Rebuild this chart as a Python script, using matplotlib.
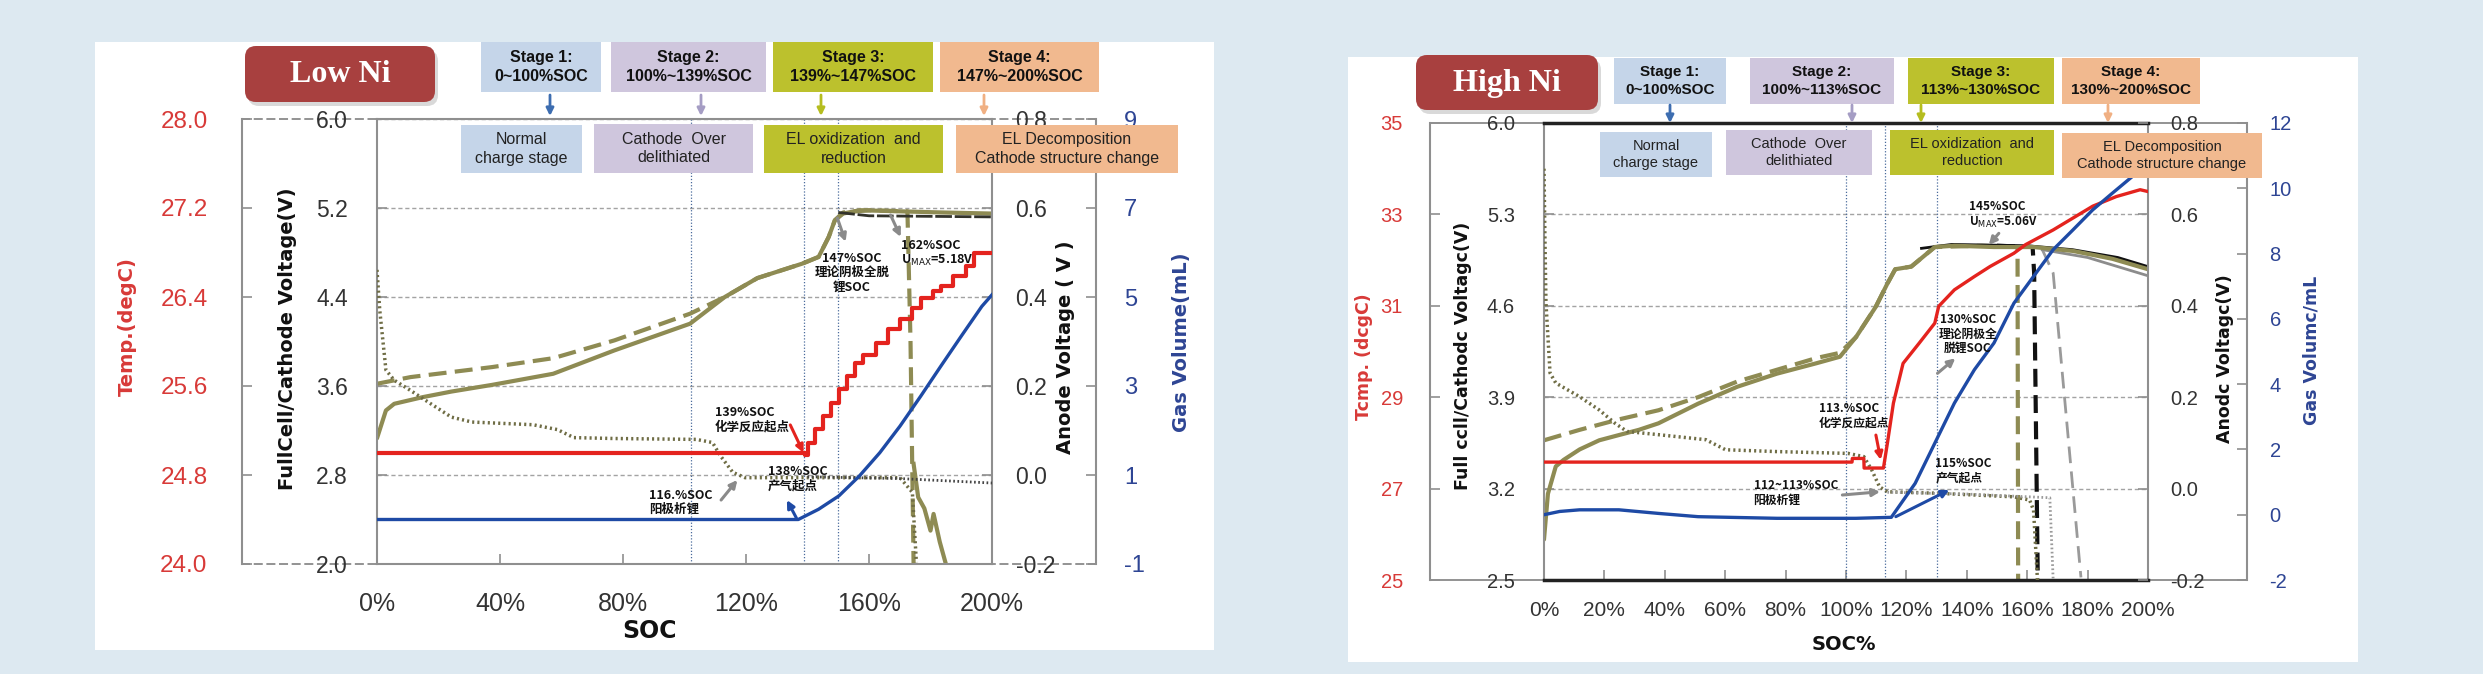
import matplotlib
matplotlib.use("Agg")
from matplotlib import pyplot as plt
from matplotlib.patches import Rectangle, FancyBboxPatch, FancyArrowPatch
from matplotlib.ticker import FormatStrFormatter

W, H = 2483, 674
BG = "#dde9f1"
OLIVE = "#8e8b53"
DARK = "#33332b"
RED = "#e4231e"
BLUE = "#1e4aa5"
TEMP_C = "#d83a38"
GAS_C = "#2e4594"
FRAME_C = "#8f8f8f"
CJK = ["Noto Sans CJK SC", "DejaVu Sans"]

plt.rcParams["font.family"] = ["Liberation Sans", "DejaVu Sans"]

# shared stage descriptions
stage_desc = ["Normal\ncharge stage", "Cathode  Over\ndelithiated",
              "EL oxidization  and\nreduction", "EL Decomposition\nCathode structure change"]
stage_colors = ["#c5d5e9", "#cfc6dd", "#bcc12d", "#f1b98f"]
stage_arrow_colors = ["#3d6db0", "#a59dc4", "#b5bd1f", "#f0b083"]

# ---------------- Low Ni ----------------
ln_stage_titles = ["Stage 1:\n0~100%SOC", "Stage 2:\n100%~139%SOC",
                   "Stage 3:\n139%~147%SOC", "Stage 4:\n147%~200%SOC"]
ln_bounds = [102, 139, 150]
ln_xticks = [0, 40, 80, 120, 160, 200]
ln_v_ticks = [2.0, 2.8, 3.6, 4.4, 5.2, 6.0]
ln_t_ticks = [24.0, 24.8, 25.6, 26.4, 27.2, 28.0]
ln_a_ticks = [-0.2, 0.0, 0.2, 0.4, 0.6, 0.8]
ln_g_ticks = [-1, 1, 3, 5, 7, 9]

ln_full_soc = [0, 2.9, 5.6, 14.9, 24.2, 37.4, 57.3, 77.2, 101.8, 113.1, 123.7, 138.3,
               143.6, 146.9, 148.9, 151.6, 156.9, 170.1, 183.4, 200]
ln_full_v = [3.13, 3.38, 3.44, 3.50, 3.55, 3.61, 3.71, 3.92, 4.16, 4.40, 4.57, 4.70,
             4.76, 4.94, 5.09, 5.15, 5.18, 5.17, 5.16, 5.15]
ln_cath_soc = [0, 10.9, 37.4, 57.3, 77.2, 101.8, 113.1, 123.7, 138.3, 143.6, 146.9,
               148.9, 151.6, 160, 172.5, 173.5, 174.5]
ln_cath_v = [3.62, 3.68, 3.77, 3.85, 4.01, 4.25, 4.40, 4.57, 4.70, 4.76, 4.94,
             5.09, 5.16, 5.18, 5.17, 4.0, 2.0]
ln_dark_soc = [150, 160, 200]
ln_dark_v = [5.16, 5.13, 5.12]
ln_tail_soc = [174.5, 176, 178, 180, 181, 183, 185]
ln_tail_v = [2.9, 2.6, 2.5, 2.3, 2.45, 2.2, 2.0]
ln_anode_soc = [0, 0.9, 2.9, 5.6, 10.9, 17.5, 24.2, 30.9, 50.7, 58.7, 64.0, 77.2,
                103.8, 109.1, 111.7, 115.7, 119.7, 170.1, 174.1, 175.4]
ln_anode_v = [0.461, 0.37, 0.236, 0.213, 0.19, 0.16, 0.13, 0.119, 0.113, 0.102, 0.084,
              0.082, 0.080, 0.073, 0.043, 0.006, -0.006, -0.006, -0.039, -0.196]
ln_anode2_soc = [140, 170, 200]
ln_anode2_v = [-0.004, -0.008, -0.018]
ln_temp_soc = [0, 138.5, 139.2, 140.3, 142.3, 144.9, 147.6, 150.2, 152.9, 155.5, 158.2,
               162.2, 166.2, 170.1, 174.1, 176.8, 180.8, 183.4, 187.4, 191.4, 194.0, 200]
ln_temp = [25.0, 25.0, 24.98, 25.09, 25.21, 25.33, 25.45, 25.57, 25.69, 25.81, 25.88,
           25.99, 26.11, 26.20, 26.30, 26.39, 26.45, 26.50, 26.59, 26.68, 26.80, 26.80]
ln_gas_soc = [0, 137, 143.6, 150.2, 156.9, 163.5, 170.1, 176.8, 183.4, 190.0, 196.7, 200]
ln_gas = [0.0, 0.0, 0.23, 0.53, 0.98, 1.50, 2.10, 2.77, 3.45, 4.12, 4.79, 5.05]

# ---------------- High Ni ----------------
hn_stage_titles = ["Stage 1:\n0~100%SOC", "Stage 2:\n100%~113%SOC",
                   "Stage 3:\n113%~130%SOC", "Stage 4:\n130%~200%SOC"]
hn_bounds = [100, 113, 130]
hn_xticks = [0, 20, 40, 60, 80, 100, 120, 140, 160, 180, 200]
hn_v_ticks = [2.5, 3.2, 3.9, 4.6, 5.3, 6.0]
hn_t_ticks = [25, 27, 29, 31, 33, 35]
hn_a_ticks = [-0.2, 0.0, 0.2, 0.4, 0.6, 0.8]
hn_g_ticks = [-2, 0, 2, 4, 6, 8, 10, 12]

hn_full_soc = [0, 1.3, 3.9, 6.5, 11.8, 18.3, 24.8, 31.4, 37.9, 51.0, 64.0, 77.1, 90.2,
               98.0, 103.3, 109.8, 113.7, 116.3, 121.6, 129.4, 135.9, 149.0, 162.1,
               175.2, 188.2, 200]
hn_full_v = [2.81, 3.16, 3.37, 3.42, 3.50, 3.57, 3.61, 3.65, 3.70, 3.85, 3.98, 4.08, 4.16,
             4.21, 4.36, 4.59, 4.77, 4.88, 4.90, 5.05, 5.06, 5.05, 5.05, 5.02, 4.96, 4.88]
hn_cath_soc = [0, 11.8, 24.8, 37.9, 51.0, 64.0, 77.1, 90.2, 98.0, 103.3, 109.8, 113.7,
               116.3, 121.6, 129.4, 145, 156.8, 157.0]
hn_cath_v = [3.57, 3.65, 3.73, 3.80, 3.90, 4.02, 4.11, 4.20, 4.24, 4.36, 4.59, 4.77,
             4.88, 4.90, 5.05, 5.06, 5.05, 2.5]
hn_cath2_soc = [150, 161.8, 162.3, 163.5]
hn_cath2_v = [5.06, 5.05, 4.85, 2.5]
hn_cath3_soc = [165, 168.6, 177.8]
hn_cath3_v = [5.03, 4.85, 2.52]
hn_dark_soc = [125, 135, 160, 175, 190, 200]
hn_dark_v = [5.04, 5.07, 5.06, 5.03, 4.97, 4.90]
hn_gray_soc = [165, 180, 200]
hn_gray_v = [5.03, 4.97, 4.83]
hn_anode_soc = [0, 0.3, 0.65, 2.0, 3.9, 11.8, 18.3, 23.5, 27.5, 37.9, 53.6, 60.1, 77.1,
                100.7, 105.9, 108.5, 111.1, 113.7, 129.4, 142.5, 155.6, 160.8, 162.1, 163.4]
hn_anode_v = [0.70, 0.55, 0.406, 0.253, 0.231, 0.201, 0.172, 0.143, 0.125, 0.118, 0.107,
              0.085, 0.081, 0.077, 0.070, 0.041, 0.004, -0.007, -0.010, -0.014, -0.018,
              -0.025, -0.047, -0.2]
hn_anode2_soc = [113.7, 140, 167.5, 168.6]
hn_anode2_v = [-0.008, -0.012, -0.02, -0.2]
hn_temp_soc = [0, 102, 102.1, 105.9, 106, 112.4, 113.7, 115.7, 118.9, 124.2, 129.4, 130.7,
               135.9, 142.5, 147.7, 155.6, 159.5, 168.6, 181.7, 189.5, 197.4, 200]
hn_temp = [27.58, 27.58, 27.66, 27.66, 27.45, 27.45, 27.99, 28.87, 29.74, 30.18, 30.62,
           30.99, 31.35, 31.64, 31.86, 32.15, 32.34, 32.66, 33.18, 33.39, 33.54, 33.50]
hn_gas_soc = [0, 5.2, 11.8, 24.8, 37.9, 51.0, 77.1, 103.3, 115.0, 122.9, 129.4, 135.9,
              142.5, 149.0, 155.6, 162.1, 168.6, 175.2, 181.7, 188.2, 194.8, 200]
hn_gas = [0.0, 0.10, 0.15, 0.15, 0.04, -0.06, -0.11, -0.11, -0.08, 0.96, 2.19, 3.42,
          4.44, 5.26, 6.48, 7.30, 8.12, 8.73, 9.34, 9.85, 10.36, 10.98]


def to_in(x, y):
    return x / 100.0, (H - y) / 100.0


def axes_px(fig, x0, y0, x1, y1):
    return fig.add_axes([x0 / W, 1 - y1 / H, (x1 - x0) / W, (y1 - y0) / H])


def fig_rect(fig, x0, y0, x1, y1, color, z):
    fig.add_artist(Rectangle(to_in(x0, y1), (x1 - x0) / 100.0, (y1 - y0) / 100.0,
                             transform=fig.dpi_scale_trans, facecolor=color,
                             edgecolor="none", zorder=z))


def fig_label(fig, x, y, s, **kw):
    fig.text(*to_in(x, y), s, transform=fig.dpi_scale_trans, ha="center", va="center",
             zorder=4, **kw)


def draw_header(fig, lay, titles):
    bx0, by0, bx1, by1 = lay["badge"]
    w, h = (bx1 - bx0) / 100.0, (by1 - by0) / 100.0
    fig.add_artist(FancyBboxPatch(to_in(bx0 + 3, by1 + 4), w, h,
                                  boxstyle="round,pad=0,rounding_size=0.11",
                                  transform=fig.dpi_scale_trans, facecolor="#000000",
                                  alpha=0.15, edgecolor="none", zorder=2))
    fig.add_artist(FancyBboxPatch(to_in(bx0, by1), w, h,
                                  boxstyle="round,pad=0,rounding_size=0.11",
                                  transform=fig.dpi_scale_trans, facecolor="#a8403f",
                                  edgecolor="none", zorder=3))
    fig_label(fig, (bx0 + bx1) / 2, (by0 + by1) / 2 + 1, lay["badge_text"], color="white",
              fontsize=lay["badge_size"], fontweight="bold", family="Liberation Serif")

    for i in range(4):
        x0, y0, x1, y1 = lay["stage_boxes"][i]
        fig_rect(fig, x0, y0, x1, y1, stage_colors[i], 2)
        fig_label(fig, (x0 + x1) / 2, (y0 + y1) / 2, titles[i], fontsize=lay["stage_size"],
                  fontweight="bold", linespacing=1.3, color="#111111")
        x0, y0, x1, y1 = lay["desc_boxes"][i]
        fig_rect(fig, x0, y0, x1, y1, stage_colors[i], 2)
        fig_label(fig, (x0 + x1) / 2, (y0 + y1) / 2, stage_desc[i], fontsize=lay["desc_size"],
                  linespacing=1.3, color="#222222")
        ax_x = lay["arrow_x"][i]
        ya, yb = lay["arrow_y"]
        fig.add_artist(FancyArrowPatch(to_in(ax_x, ya), to_in(ax_x, yb),
                                       transform=fig.dpi_scale_trans, arrowstyle="-|>",
                                       mutation_scale=11, lw=2, color=stage_arrow_colors[i],
                                       shrinkA=0, shrinkB=0, zorder=4))


def draw_panel(fig, lay, bounds, xticks, ticks, curves, notes, arrows):
    x0, y0, x1, y1 = lay["inner"]
    ox0, ox1 = lay["outer"]
    fig_rect(fig, *lay["panel"], "white", -1)

    frame = axes_px(fig, ox0, y0, ox1, y1)
    frame.patch.set_visible(False)
    frame.set_xticks([])
    frame.set_yticks([])
    frame.spines["left"].set_visible(False)
    frame.spines["right"].set_visible(False)
    for s in ("top", "bottom"):
        frame.spines[s].set_linestyle(lay["frame_ls"])
        frame.spines[s].set_color("#8a8a8a")
        frame.spines[s].set_linewidth(1.3)

    ax = axes_px(fig, x0, y0, x1, y1)
    ax.patch.set_visible(False)
    ax_a = ax.twinx()
    ax_t = ax.twinx()
    ax_g = ax.twinx()
    for a in (ax_a, ax_t, ax_g):
        for s in a.spines.values():
            s.set_visible(False)
    for s in ("left", "right"):
        ax.spines[s].set_color(FRAME_C)
        ax.spines[s].set_linewidth(1.5)
    for s in ("top", "bottom"):
        ax.spines[s].set_color(lay["tb_color"])
        ax.spines[s].set_linewidth(lay["tb_lw"])

    ax_t.yaxis.tick_left()
    ax_t.yaxis.set_label_position("left")
    ax_t.spines["left"].set_visible(True)
    ax_t.spines["left"].set_position(("outward", lay["t_out"]))
    ax_g.spines["right"].set_visible(True)
    ax_g.spines["right"].set_position(("outward", lay["g_out"]))
    for sp in (ax_t.spines["left"], ax_g.spines["right"]):
        sp.set_color(FRAME_C)
        sp.set_linewidth(1.5)

    ax.set_xlim(0, 200)
    ax.set_xticks(xticks, labels=[f"{t}%" for t in xticks])
    ax.tick_params(axis="x", direction="in", length=7, width=1.2, color=FRAME_C,
                   labelsize=lay["x_size"], pad=lay["x_pad"], labelcolor="#333333")

    axmap = {"v": ax, "a": ax_a, "t": ax_t, "g": ax_g}
    for key, a in axmap.items():
        tk = ticks[key]
        a.set_ylim(min(tk), max(tk))
        a.set_yticks(tk)
        a.yaxis.set_major_formatter(FormatStrFormatter(lay["fmt"][key]))
        a.tick_params(axis="y", direction="in", length=7, width=1.2, color=FRAME_C,
                      labelsize=lay["size"][key], pad=lay["pad"][key],
                      labelcolor=lay["tcolor"][key])
        a.set_ylabel(lay["ylabel"][key], fontsize=lay["ylabel_size"], fontweight="bold",
                     family="DejaVu Sans", color=lay["lcolor"][key])
        a.yaxis.set_label_coords(*lay["ylabel_pos"][key])

    ax.yaxis.grid(True, linestyle=(0, (3, 2)), color="#a3a3a3", lw=1.0)
    for b in bounds:
        ax.axvline(b, color="#4a6b9c", lw=0.9, ls=(0, (1, 1.5)))

    for key, soc, vals, style in curves:
        axmap[key].plot(soc, vals, **style)

    ax.set_xlabel(lay["xlabel"], fontsize=lay["xlabel_size"], fontweight="bold",
                  family="DejaVu Sans", color="#111111")
    ax.xaxis.set_label_coords(*lay["xlabel_pos"])

    for s, sx, sy, ha in notes:
        ax_g.text(sx, sy, s, transform=ax.transData, ha=ha, va="center",
                  fontsize=lay["note_size"], fontweight="bold", family=CJK,
                  linespacing=1.15, color="#111111", zorder=6)
    for tx, ty, hx, hy, c in arrows:
        ax_g.annotate("", xy=(hx, hy), xytext=(tx, ty), xycoords=ax.transData,
                      textcoords=ax.transData, annotation_clip=False,
                      arrowprops=dict(arrowstyle="-|>", color=c, lw=2.2,
                                      mutation_scale=11, shrinkA=0, shrinkB=0))


def main():
    fig = plt.figure(figsize=(W / 100, H / 100), dpi=100)
    fig.patch.set_facecolor(BG)

    common = dict(
        fmt={"v": "%.1f", "a": "%.1f", "t": "%.1f", "g": "%d"},
        tcolor={"v": "#333333", "a": "#333333", "t": TEMP_C, "g": GAS_C},
        lcolor={"v": "#111111", "a": "#111111", "t": TEMP_C, "g": GAS_C},
    )

    ln_lay = dict(common)
    ln_lay.update(
        panel=(95, 42, 1214, 650), inner=(377, 119, 992, 564), outer=(242, 1097),
        badge=(245, 46, 435, 102), badge_text="Low Ni", badge_size=23,
        stage_boxes=[(481, 42, 601, 92), (611, 42, 766, 92), (773, 42, 933, 92),
                     (940, 42, 1099, 92)],
        desc_boxes=[(461, 125, 582, 173), (594, 124, 753, 173), (764, 125, 943, 173),
                    (956, 125, 1178, 173)],
        arrow_x=[550, 701, 821, 984], arrow_y=(95, 116), stage_size=11.5, desc_size=11.5,
        frame_ls=(0, (4, 3)), tb_color=FRAME_C, tb_lw=1.5, t_out=97, g_out=75,
        x_size=18, x_pad=20,
        size={"v": 16.5, "a": 16.5, "t": 17.5, "g": 17},
        pad={"v": 21, "a": 17, "t": 25, "g": 20},
        ylabel={"v": "FullCell/Cathode Voltage(V)", "a": "Anode Voltage ( V )",
                "t": "Temp.(degC)", "g": "Gas Volume(mL)"},
        ylabel_size=14,
        ylabel_pos={"v": (-0.130, 0.506), "a": (1.104, 0.488), "t": (-0.390, 0.533),
                    "g": (1.292, 0.499)},
        xlabel="SOC", xlabel_size=17, xlabel_pos=(0.443, -0.124), note_size=9,
    )

    hn_lay = dict(common)
    hn_lay.update(
        panel=(1348, 57, 2358, 662), inner=(1544, 123, 2148, 580), outer=(1430, 2247),
        badge=(1416, 55, 1598, 110), badge_text="High Ni", badge_size=23,
        stage_boxes=[(1614, 58, 1726, 104), (1750, 58, 1894, 104), (1908, 58, 2054, 104),
                     (2062, 58, 2200, 104)],
        desc_boxes=[(1600, 132, 1712, 177), (1726, 130, 1872, 175), (1890, 130, 2054, 175),
                    (2062, 133, 2262, 178)],
        arrow_x=[1670, 1852, 1921, 2108], arrow_y=(105, 123), stage_size=11, desc_size=10.5,
        frame_ls=(0, (1, 1)), tb_color="#222222", tb_lw=2.5, t_out=82, g_out=71,
        x_size=15, x_pad=15,
        size={"v": 14.5, "a": 14.5, "t": 14.5, "g": 14.5},
        pad={"v": 21, "a": 16, "t": 19.5, "g": 16.5},
        ylabel={"v": "Full ccll/Cathodc Voltagc(V)", "a": "Anodc Voltagc(V)",
                "t": "Tcmp. (dcgC)", "g": "Gas Volumc/mL"},
        ylabel_size=12.5,
        ylabel_pos={"v": (-0.119, 0.490), "a": (1.113, 0.484), "t": (-0.283, 0.488),
                    "g": (1.255, 0.503)},
        xlabel="SOC%", xlabel_size=14, xlabel_pos=(0.497, -0.12), note_size=8.5,
    )
    hn_lay["fmt"] = {"v": "%.1f", "a": "%.1f", "t": "%d", "g": "%d"}

    solid = dict(color=OLIVE, lw=3, solid_capstyle="round")
    dashed = dict(color=OLIVE, lw=3, ls=(0, (4.3, 2)))
    dotted = dict(color="#6f6d45", lw=2.5, ls=(0, (0.6, 0.9)))

    ln_curves = [
        ("v", ln_cath_soc, ln_cath_v, dashed),
        ("v", ln_full_soc, ln_full_v, solid),
        ("v", ln_dark_soc, ln_dark_v, dict(color=DARK, lw=2, ls=(0, (6, 1)))),
        ("v", ln_tail_soc, ln_tail_v, dict(color=OLIVE, lw=3)),
        ("a", ln_anode_soc, ln_anode_v, dotted),
        ("a", ln_anode2_soc, ln_anode2_v, dict(color="#444444", lw=2, ls=(0, (0.6, 0.9)))),
        ("t", ln_temp_soc, ln_temp, dict(color=RED, lw=3, drawstyle="steps-post")),
        ("g", ln_gas_soc, ln_gas, dict(color=BLUE, lw=2.4)),
    ]
    ln_notes = [
        ("139%SOC\n化学反应起点", 109.9, 3.30, "left"),
        ("138%SOC\n产气起点", 127.2, 2.77, "left"),
        ("116.%SOC\n阳极析锂", 88.5, 2.553, "left"),
        ("147%SOC\n理论阴极全脱\n锂SOC", 154.5, 4.62, "center"),
        ("162%SOC\nU$_{\\mathrm{MAX}}$=5.18V", 170.3, 4.79, "left"),
    ]
    ln_arrows = [
        (134.4, 3.25, 138.7, 3.0, RED),
        (136.4, 2.413, 133.3, 2.575, BLUE),
        (111.9, 2.575, 117.2, 2.755, "#8a8a8a"),
        (149.7, 5.11, 152.4, 4.897, "#8a8a8a"),
        (167.0, 5.137, 170.3, 4.94, "#8a8a8a"),
    ]

    hn_curves = [
        ("v", hn_cath_soc, hn_cath_v, dashed),
        ("v", hn_cath2_soc, hn_cath2_v, dict(color="#111111", lw=3, ls=(0, (4.3, 2)))),
        ("v", hn_cath3_soc, hn_cath3_v, dict(color="#9a9a9a", lw=2, ls=(0, (6, 3)))),
        ("v", hn_dark_soc, hn_dark_v, dict(color="#111111", lw=2)),
        ("v", hn_gray_soc, hn_gray_v, dict(color="#8c8c8c", lw=2)),
        ("v", hn_full_soc, hn_full_v, solid),
        ("a", hn_anode_soc, hn_anode_v, dotted),
        ("a", hn_anode2_soc, hn_anode2_v, dict(color="#9a9a9a", lw=2, ls=(0, (0.6, 0.9)))),
        ("t", hn_temp_soc, hn_temp, dict(color=RED, lw=2.4)),
        ("g", hn_gas_soc, hn_gas, dict(color=BLUE, lw=2.4)),
    ]
    hn_notes = [
        ("145%SOC\nU$_{\\mathrm{MAX}}$=5.06V", 140.7, 5.295, "left"),
        ("130%SOC\n理论阴极全\n脱锂SOC", 140.4, 4.384, "center"),
        ("113.%SOC\n化学反应起点", 91.0, 3.76, "left"),
        ("112~113%SOC\n阳极析锂", 69.4, 3.17, "left"),
        ("115%SOC\n产气起点", 129.6, 3.34, "left"),
    ]
    hn_arrows = [
        (150.6, 5.155, 147.3, 5.066, "#8a8a8a"),
        (130.3, 4.083, 136.2, 4.198, "#8a8a8a"),
        (109.9, 3.61, 111.5, 3.42, RED),
        (98.8, 3.151, 111.3, 3.176, "#8a8a8a"),
        (116.5, 2.985, 134.2, 3.19, BLUE),
    ]

    draw_panel(fig, ln_lay, ln_bounds, ln_xticks,
               {"v": ln_v_ticks, "a": ln_a_ticks, "t": ln_t_ticks, "g": ln_g_ticks},
               ln_curves, ln_notes, ln_arrows)
    draw_panel(fig, hn_lay, hn_bounds, hn_xticks,
               {"v": hn_v_ticks, "a": hn_a_ticks, "t": hn_t_ticks, "g": hn_g_ticks},
               hn_curves, hn_notes, hn_arrows)
    draw_header(fig, ln_lay, ln_stage_titles)
    draw_header(fig, hn_lay, hn_stage_titles)

    fig.savefig("out.png", dpi=100, facecolor=BG)


if __name__ == "__main__":
    main()
